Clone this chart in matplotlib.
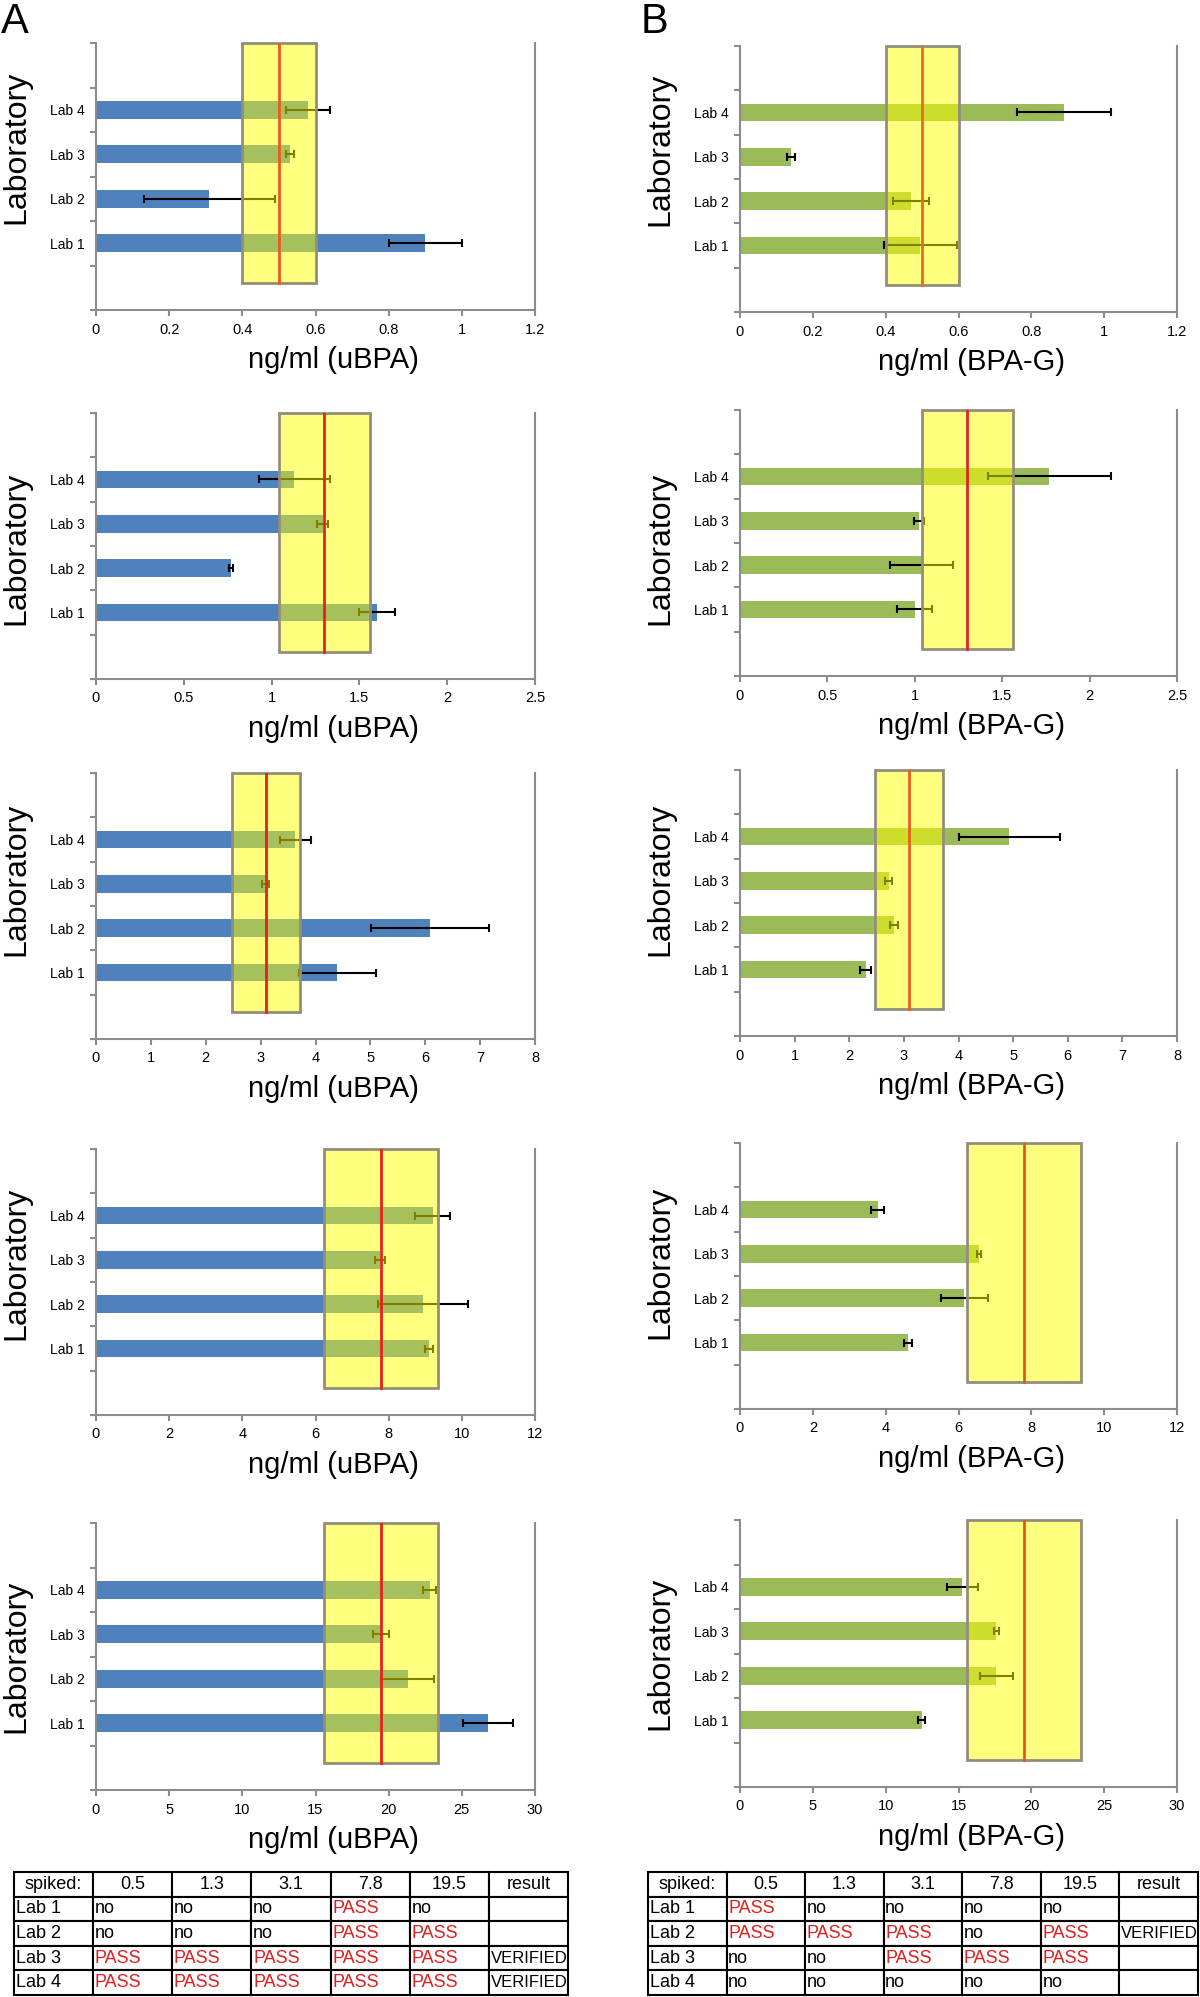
import matplotlib
matplotlib.use('Agg')
import matplotlib.pyplot as plt
from matplotlib.ticker import MultipleLocator, FormatStrFormatter, FixedLocator

plt.rcParams['font.family'] = ['Liberation Sans', 'DejaVu Sans']

# data
labs = ['Lab 1', 'Lab 2', 'Lab 3', 'Lab 4']
spikes = [0.5, 1.3, 3.1, 7.8, 19.5]
xmax = [1.2, 2.5, 8, 12, 30]
xstep = [0.2, 0.5, 1, 2, 5]

ubpa_vals = [[0.90, 0.31, 0.53, 0.58],
             [1.60, 0.77, 1.29, 1.13],
             [4.40, 6.09, 3.09, 3.63],
             [9.09, 8.93, 7.76, 9.20],
             [26.8, 21.3, 19.45, 22.8]]
ubpa_err = [[0.10, 0.18, 0.01, 0.06],
            [0.10, 0.01, 0.03, 0.20],
            [0.70, 1.08, 0.06, 0.28],
            [0.11, 1.23, 0.14, 0.48],
            [1.7, 1.8, 0.55, 0.45]]

bpag_vals = [[0.495, 0.47, 0.14, 0.89],
             [1.00, 1.04, 1.025, 1.77],
             [2.30, 2.82, 2.72, 4.93],
             [4.61, 6.16, 6.57, 3.78],
             [12.47, 17.6, 17.6, 15.26]]
bpag_err = [[0.10, 0.05, 0.01, 0.13],
            [0.10, 0.18, 0.03, 0.35],
            [0.10, 0.07, 0.07, 0.93],
            [0.10, 0.64, 0.05, 0.17],
            [0.24, 1.13, 0.15, 1.08]]

table_header = ['spiked:', '0.5', '1.3', '3.1', '7.8', '19.5', 'result']
ubpa_table = [['Lab 1', 'no', 'no', 'no', 'PASS', 'no', ''],
              ['Lab 2', 'no', 'no', 'no', 'PASS', 'PASS', ''],
              ['Lab 3', 'PASS', 'PASS', 'PASS', 'PASS', 'PASS', 'VERIFIED'],
              ['Lab 4', 'PASS', 'PASS', 'PASS', 'PASS', 'PASS', 'VERIFIED']]
bpag_table = [['Lab 1', 'PASS', 'no', 'no', 'no', 'no', ''],
              ['Lab 2', 'PASS', 'PASS', 'PASS', 'no', 'PASS', 'VERIFIED'],
              ['Lab 3', 'no', 'no', 'PASS', 'PASS', 'PASS', ''],
              ['Lab 4', 'no', 'no', 'no', 'no', 'no', '']]

# layout in pixels of the 1200x1997 picture
W, H = 1200, 1997
a_cols = (96, 535)
b_cols = (740, 1177)
a_rows = [(43, 310), (413, 679), (773, 1039), (1149, 1415), (1523, 1790)]
b_rows = [(46, 312), (410, 676), (770, 1036), (1143, 1409), (1520, 1787)]
a_ylab = [0.61, 0.49, 0.60, 0.57, 0.5]
b_ylab = [0.61, 0.48, 0.59, 0.55, 0.5]
a_red = ['#ec5a22', '#e82020', '#e82020', '#e82020', '#e82020']
b_red = ['#ea6a1e', '#e62222', '#e6601e', '#dc5a1e', '#e0581e']

GRAY = '#8c8c8c'

fig = plt.figure(figsize=(12, 19.97), dpi=100)


def panel(cols, top, bot, vals, errs, target, xm, step, color, xlabel, ylab_y, xlab_x, redc):
    x0, x1 = cols
    ax = fig.add_axes([x0 / W, 1 - bot / H, (x1 - x0) / W, (bot - top) / H])
    ys = list(range(1, len(labs) + 1))
    ax.barh(ys, vals, height=0.4, color=color, zorder=2)
    ax.errorbar(vals, ys, xerr=errs, fmt='none', ecolor='black',
                elinewidth=1.5, capsize=3, capthick=1.5, zorder=3)
    ax.axvspan(target * 0.8, target * 1.2, ymin=0.1, ymax=1.0,
               facecolor=(1, 1, 0, 0.5), edgecolor='#948d7c', linewidth=2,
               zorder=4, clip_on=False)
    ax.axvline(target, ymin=0.1, ymax=1.0, color=redc, linewidth=2, zorder=5)
    ax.set_xlim(0, xm)
    ax.set_ylim(-0.5, 5.5)
    ax.xaxis.set_major_locator(MultipleLocator(step))
    ax.xaxis.set_major_formatter(FormatStrFormatter('%g'))
    ax.yaxis.set_major_locator(MultipleLocator(1, offset=0.5))
    ax.yaxis.set_major_formatter(plt.NullFormatter())
    ax.yaxis.set_minor_locator(FixedLocator(ys))
    ax.set_yticklabels(labs, minor=True)
    ax.tick_params(axis='y', which='minor', length=0, pad=8, labelsize=10)
    ax.tick_params(axis='y', which='major', length=4, width=1.5, color=GRAY)
    ax.tick_params(axis='x', length=4, width=1.5, color=GRAY, labelsize=10.5, pad=5)
    for s in ['left', 'right', 'bottom']:
        ax.spines[s].set_color(GRAY)
        ax.spines[s].set_linewidth(1.5)
    ax.spines['top'].set_visible(False)
    ax.set_xlabel(xlabel, fontsize=21)
    ax.xaxis.set_label_coords(xlab_x, -50 / (bot - top))
    ax.xaxis.label.set_va('center')
    ax.set_ylabel('Laboratory', fontsize=23)
    ax.yaxis.set_label_coords(-80 / (x1 - x0), ylab_y)
    ax.yaxis.label.set_va('center')
    return ax


for i in range(5):
    t, b = a_rows[i]
    panel(a_cols, t, b, ubpa_vals[i], ubpa_err[i], spikes[i], xmax[i], xstep[i],
          '#4f81bd', 'ng/ml (uBPA)', a_ylab[i], 0.54, a_red[i])
    t, b = b_rows[i]
    panel(b_cols, t, b, bpag_vals[i], bpag_err[i], spikes[i], xmax[i], xstep[i],
          '#9bbb59', 'ng/ml (BPA-G)', b_ylab[i], 0.53, b_red[i])

fig.text(1 / W, 1 - 22 / H, 'A', fontsize=30, va='center', ha='left')
fig.text(641 / W, 1 - 22 / H, 'B', fontsize=30, va='center', ha='left')


def draw_table(x0, x1, top, bot, rows):
    tax = fig.add_axes([x0 / W, 1 - bot / H, (x1 - x0) / W, (bot - top) / H])
    tax.axis('off')
    tb = tax.table(cellText=[table_header] + rows, bbox=[0, 0, 1, 1], cellLoc='left')
    tb.auto_set_font_size(False)
    for (r, c), cell in tb.get_celld().items():
        cell.set_linewidth(1.5)
        cell.set_edgecolor('black')
        cell.PAD = 0.02
        txt = cell.get_text()
        txt.set_fontsize(13)
        if r == 0:
            txt.set_ha('center')
            cell._loc = 'center'
        if txt.get_text() == 'PASS':
            txt.set_color('#e01e1e')
        if txt.get_text() == 'VERIFIED':
            txt.set_fontsize(12)
    return tax


draw_table(14, 568, 1872, 1995, ubpa_table)
draw_table(648, 1198, 1872, 1995, bpag_table)

fig.savefig('out.png', dpi=100)
